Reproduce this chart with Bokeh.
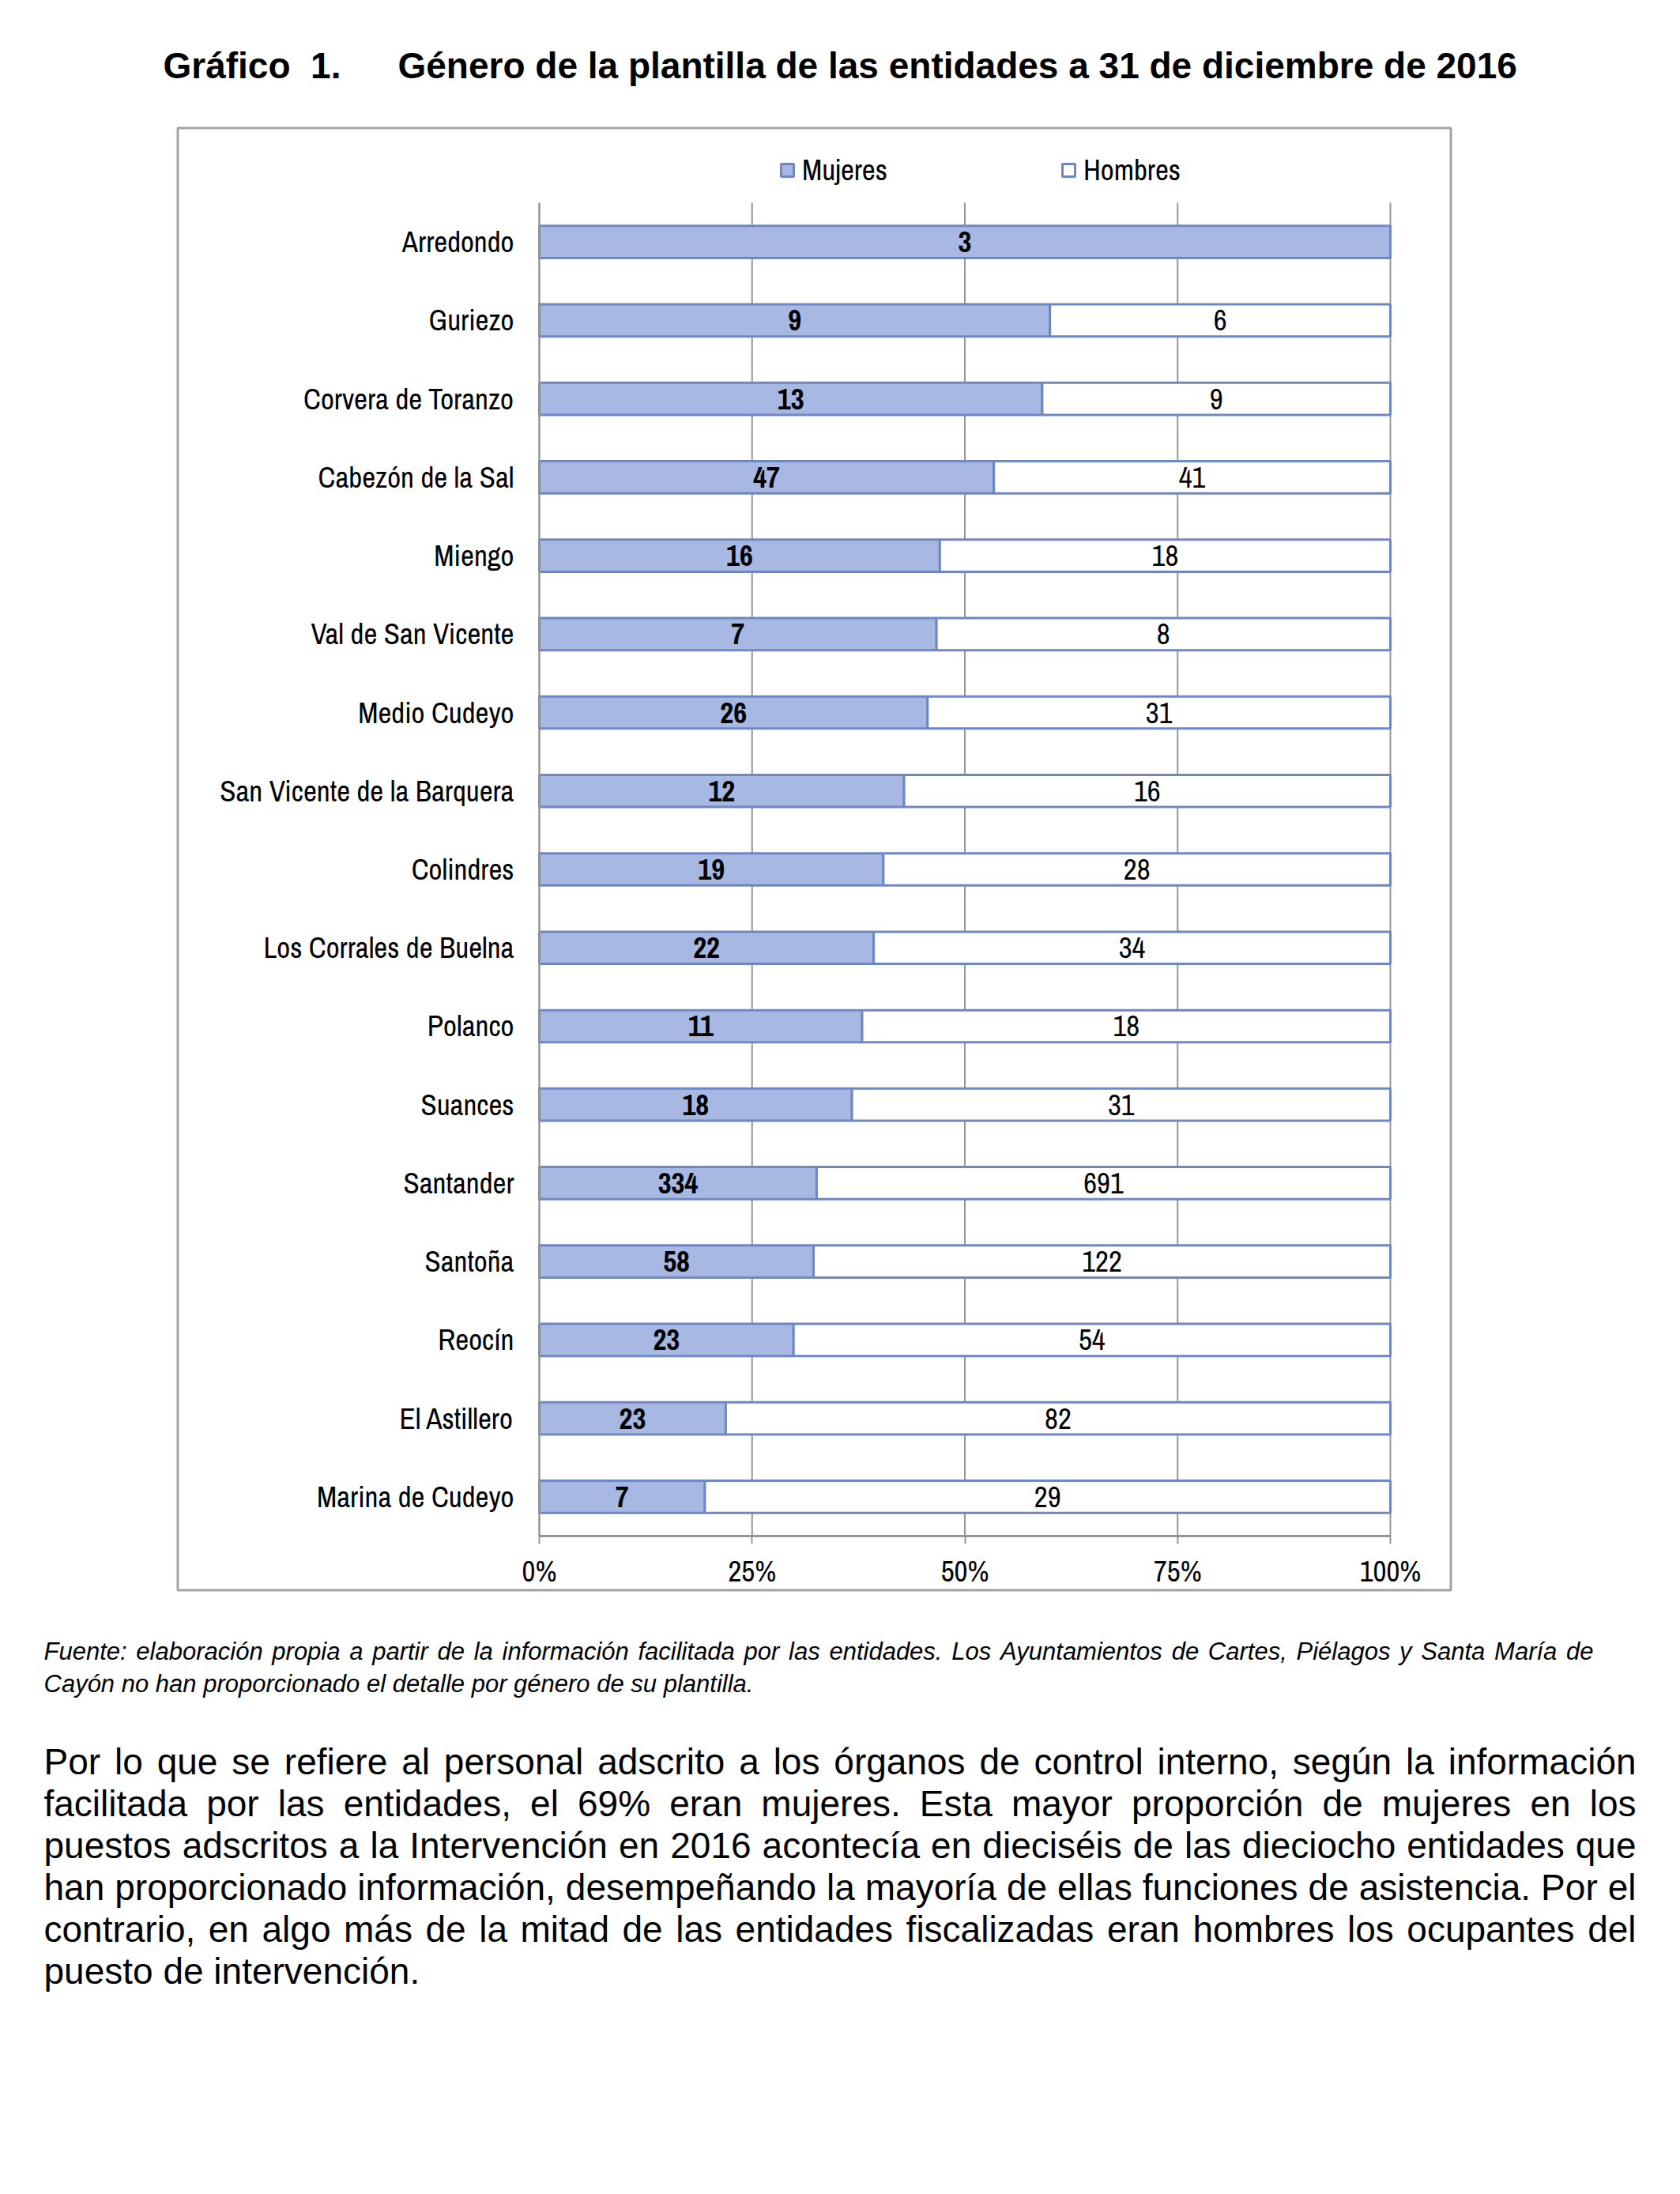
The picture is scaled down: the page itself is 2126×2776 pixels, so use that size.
from bokeh.plotting import figure
from bokeh.models import (Range1d, ColumnDataSource, Legend, LegendItem, FixedTicker, LinearAxis,
                          BoxAnnotation)
from bokeh.core.properties import value
from bokeh.embed import file_html
from bokeh.resources import INLINE

# ---------------- data ----------------
categories = ["Arredondo", "Guriezo", "Corvera de Toranzo", "Cabezón de la Sal", "Miengo",
              "Val de San Vicente", "Medio Cudeyo", "San Vicente de la Barquera", "Colindres",
              "Los Corrales de Buelna", "Polanco", "Suances", "Santander", "Santoña", "Reocín",
              "El Astillero", "Marina de Cudeyo"]
mujeres = [3, 9, 13, 47, 16, 7, 26, 12, 19, 22, 11, 18, 334, 58, 23, 23, 7]
hombres = [0, 6, 9, 41, 18, 8, 31, 16, 28, 34, 18, 31, 691, 122, 54, 82, 29]
series_names = ["Mujeres", "Hombres"]
x_ticks = [0, 25, 50, 75, 100]
x_tick_labels = ["0%", "25%", "50%", "75%", "100%"]

title_num = "Gráfico\u00a0\u00a01."
title_text = "Género de la plantilla de las entidades a 31 de diciembre de 2016"
footnote_lines = [
    "Fuente: elaboración propia a partir de la información facilitada por las entidades. Los Ayuntamientos de Cartes, Piélagos y Santa María de",
    "Cayón no han proporcionado el detalle por género de su plantilla.",
]
paragraph_lines = [
    "Por lo que se refiere al personal adscrito a los órganos de control interno, según la información",
    "facilitada por las entidades, el 69% eran mujeres. Esta mayor proporción de mujeres en los",
    "puestos adscritos a la Intervención en 2016 acontecía en dieciséis de las dieciocho entidades que",
    "han proporcionado información, desempeñando la mayoría de ellas funciones de asistencia. Por el",
    "contrario, en algo más de la mitad de las entidades fiscalizadas eran hombres los ocupantes del",
    "puesto de intervención.",
]

# ---------------- styles / geometry (page pixels) ----------------
NARROW = "'Liberation Sans Narrow', 'Arial Narrow', 'Archivo Narrow', 'Liberation Sans', sans-serif"
SANS = "'Liberation Sans', Arial, sans-serif"
BAR_LINE = "#6F87C3"
BAR_FILL = ["#A7B9E3", "#FFFFFF"]
GRID = "#969696"
BOX = "#A3A3A3"
W, H = 2110, 2760
FL, FR, FT, FB = 682, 1759, 256, 1943   # chart plot area in page pixels
NCAT = len(categories)
ROW = (FB - FT) / NCAT

def pct(px):
    return (px - FL) / (FR - FL) * 100.0

def rowc(py):
    return (py - FT) / ROW - 0.5

# Arial / Liberation Sans advance widths (per 1000 em) for justified text
_AW = {" ": 278, ",": 278, ".": 278, ":": 278, "%": 889, "f": 278, "i": 222, "j": 222, "l": 222,
       "t": 278, "r": 333, "c": 500, "k": 500, "s": 500, "v": 500, "x": 500, "y": 500, "z": 500,
       "m": 833, "w": 722, "í": 278, "A": 667, "C": 722, "E": 667, "F": 611, "I": 278, "L": 556,
       "P": 667, "S": 667, "M": 833}

def text_w(s, size):
    return sum(_AW.get(c, 556) for c in s) * size / 1000.0

def justified(lines, x0, x1, y0, dy, size, last_free):
    xs, ys, ts = [], [], []
    for k, line in enumerate(lines):
        y = y0 + dy * k
        words = line.split(" ")
        if (last_free and k == len(lines) - 1) or len(words) < 2:
            xs.append(x0); ys.append(y); ts.append(line)
            continue
        ww = [text_w(w, size) for w in words]
        gap = (x1 - x0 - sum(ww)) / (len(words) - 1)
        x = x0
        for w, wd in zip(words, ww):
            xs.append(x); ys.append(y); ts.append(w)
            x += wd + gap
    return xs, ys, ts

# ---------------- figure: frame = whole page, data units = page pixels ----------------
p = figure(width=W, height=H, x_range=Range1d(0, W), y_range=Range1d(H, 0),
           x_axis_type=None, y_axis_type=None, min_border=0,
           toolbar_location=None, output_backend="svg", outline_line_color=None,
           background_fill_color="white", border_fill_color="white")
p.grid.visible = False
p.extra_x_ranges = {"pct": Range1d(pct(0), pct(W))}
p.extra_y_ranges = {"row": Range1d(rowc(H), rowc(0))}

# chart data
rows = list(range(NCAT))
tot = [m + h for m, h in zip(mujeres, hombres)]
pm = [m / t * 100 for m, t in zip(mujeres, tot)]
ph = [h / t * 100 for h, t in zip(hombres, tot)]
src = ColumnDataSource(dict(row=rows, pm=pm, ph=ph,
                            m_x=[v / 2 for v in pm], m_lab=[str(v) for v in mujeres]))
hsel = [i for i, h in enumerate(hombres) if h > 0]
hsrc = ColumnDataSource(dict(row=[rows[i] for i in hsel],
                             h_x=[pm[i] + ph[i] / 2 for i in hsel],
                             h_lab=[str(hombres[i]) for i in hsel]))

# vertical gridlines
p.segment(x0=x_ticks, x1=x_ticks, y0=[-0.5] * len(x_ticks), y1=[NCAT - 0.5] * len(x_ticks),
          x_range_name="pct", y_range_name="row", line_color=GRID, line_width=2)

rs = p.hbar_stack(["pm", "ph"], y="row", height=0.41, source=src,
                  fill_color=BAR_FILL, line_color=BAR_LINE, line_width=3,
                  x_range_name="pct", y_range_name="row")

p.text(x="m_x", y="row", text="m_lab", source=src, text_align="center", text_baseline="middle",
       text_font=value(NARROW), text_font_size="37px", text_font_style="bold", text_color="black",
       x_range_name="pct", y_range_name="row")
p.text(x="h_x", y="row", text="h_lab", source=hsrc, text_align="center", text_baseline="middle",
       text_font=value(NARROW), text_font_size="37px", text_color="black",
       x_range_name="pct", y_range_name="row")

# axes placed inside the frame at fixed locations
yax = LinearAxis(x_range_name="pct", y_range_name="row", fixed_location=0, bounds=(-0.5, NCAT - 0.5),
                 ticker=FixedTicker(ticks=rows), major_label_overrides=dict(zip(rows, categories)),
                 axis_line_color=GRID, axis_line_width=2, major_tick_line_color=None,
                 minor_tick_line_color=None, major_label_standoff=26,
                 major_label_text_font=NARROW, major_label_text_font_size="37px",
                 major_label_text_color="black")
p.add_layout(yax, "left")
xax = LinearAxis(x_range_name="pct", y_range_name="row", fixed_location=NCAT - 0.5, bounds=(0, 100),
                 ticker=FixedTicker(ticks=x_ticks), major_label_overrides=dict(zip(x_ticks, x_tick_labels)),
                 axis_line_color=GRID, axis_line_width=3, major_tick_in=0, major_tick_out=10,
                 major_tick_line_color=GRID, major_tick_line_width=2, minor_tick_line_color=None,
                 major_label_standoff=9, major_label_text_font=NARROW,
                 major_label_text_font_size="37px", major_label_text_color="black")
p.add_layout(xax, "below")

legend = Legend(items=[LegendItem(label=series_names[0], renderers=[rs[0]]),
                       LegendItem(label=series_names[1], renderers=[rs[1]])],
                orientation="horizontal", location=(986, H - 240), spacing=219,
                glyph_width=20, glyph_height=20, label_standoff=9,
                label_text_font=NARROW, label_text_font_size="37px", label_text_color="black",
                border_line_color=None, background_fill_alpha=0, padding=0, margin=0)
p.add_layout(legend)

# chart box
p.add_layout(BoxAnnotation(left=224.5, right=1835.5, top=161.5, bottom=2011.5,
                           fill_alpha=0, fill_color=None, line_color=BOX, line_alpha=1.0,
                           line_width=3))

# title
p.text(x=[206, 503], y=[82, 82], text=[title_num, title_text], text_font=value(SANS),
       text_font_size="46px", text_font_style="bold", text_baseline="middle", text_align="left",
       text_color="black")

# footnote (justified like the source)
fxs, fys, fts = justified(footnote_lines, 55, 2016, 2089, 41, 31, True)
p.text(x=fxs, y=fys, text=fts, text_font=value(SANS), text_font_size="31px", text_font_style="italic",
       text_baseline="middle", text_align="left", text_color="black")

# paragraph (justified like the source)
pxs, pys, pts = justified(paragraph_lines, 55, 2070, 2228, 53, 46, True)
p.text(x=pxs, y=pys, text=pts, text_font=value(SANS), text_font_size="46px",
       text_baseline="middle", text_align="left", text_color="black")

open("out.html", "w").write(file_html(p, INLINE))
